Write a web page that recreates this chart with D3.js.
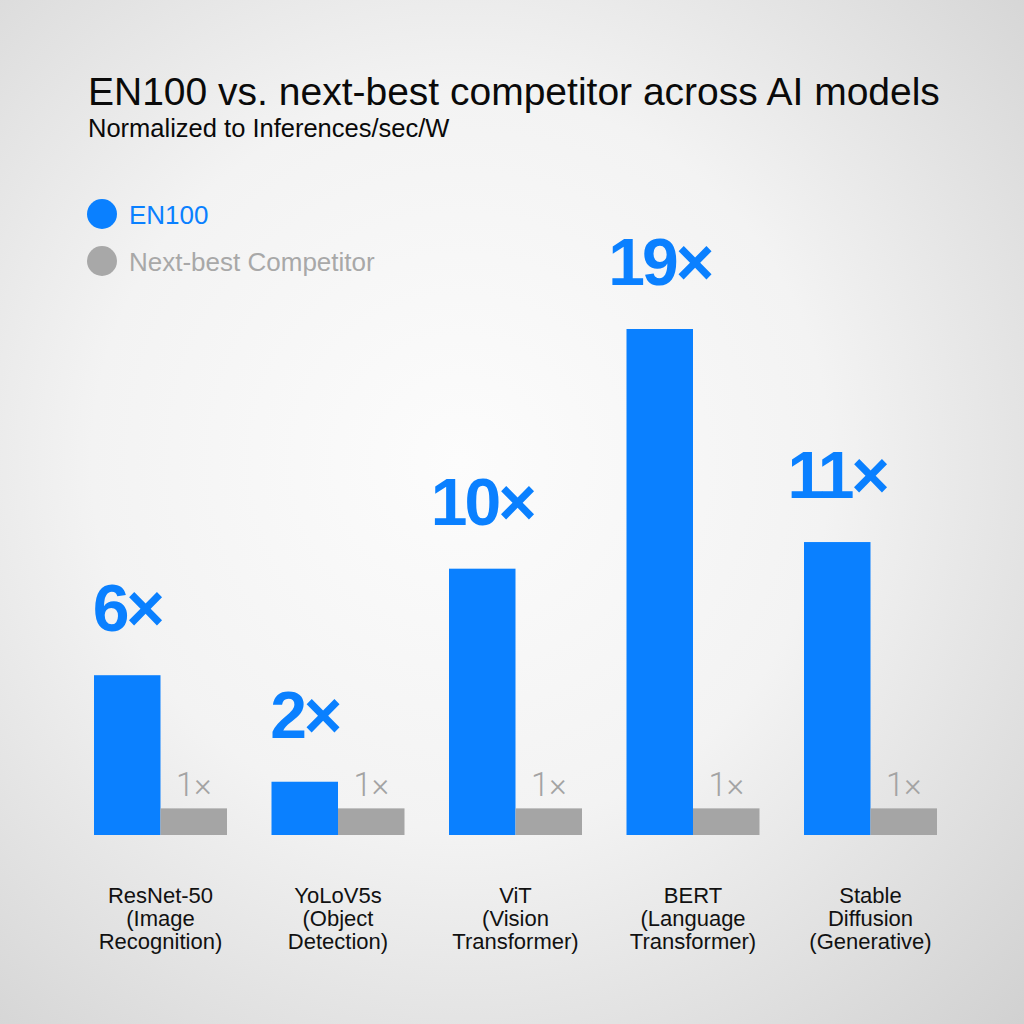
<!DOCTYPE html>
<html>
<head>
<meta charset="utf-8">
<script src="https://cdn.jsdelivr.net/npm/d3@7"></script>
<style>
  html, body { margin: 0; padding: 0; background: #fff; }
  svg { display: block; }
</style>
</head>
<body>
<svg id="chart" width="1024" height="1024"></svg>
<script>
// ---- Data ----
const categories = [
  ["ResNet-50", "(Image", "Recognition)"],
  ["YoLoV5s", "(Object", "Detection)"],
  ["ViT", "(Vision", "Transformer)"],
  ["BERT", "(Language", "Transformer)"],
  ["Stable", "Diffusion", "(Generative)"]
];
const categoryKeys = ["ResNet-50", "YoLoV5s", "ViT", "BERT", "Stable Diffusion"];
const seriesNames = ["EN100", "Next-best Competitor"];
const en100Values = [6, 2, 10, 19, 11];
const competitorValues = [1, 1, 1, 1, 1];
const title = "EN100 vs. next-best competitor across AI models";
const subtitle = "Normalized to Inferences/sec/W";

const BLUE = "#0a80ff";
const GRAY = "#a5a5a5";

const svg = d3.select("#chart");

// background gradient
const defs = svg.append("defs");
const grad = defs.append("radialGradient")
  .attr("id", "bg").attr("cx", "45%").attr("cy", "45%").attr("r", "80%");
grad.append("stop").attr("offset", "0%").attr("stop-color", "#fcfcfc");
grad.append("stop").attr("offset", "45%").attr("stop-color", "#f3f3f3");
grad.append("stop").attr("offset", "100%").attr("stop-color", "#cfcfcf");
svg.append("rect").attr("width", 1024).attr("height", 1024).attr("fill", "url(#bg)");

// scales
const x = d3.scaleBand().domain(categoryKeys).range([94, 937]).paddingInner(0.2507).paddingOuter(0);
const xs = d3.scaleBand().domain(seriesNames).range([0, x.bandwidth()]).padding(0);
const y = d3.scaleLinear().domain([0, 19]).range([835, 329]);

const rows = categoryKeys.map((k, i) => ({ key: k, lines: categories[i], en: en100Values[i], comp: competitorValues[i] }));

// title
svg.append("text").attr("x", 88).attr("y", 105)
  .attr("font-family", "'Liberation Sans', Arial, sans-serif").attr("font-size", 39)
  .attr("fill", "#0a0a0a").text(title);
svg.append("text").attr("x", 88).attr("y", 137)
  .attr("font-family", "'Liberation Sans', Arial, sans-serif").attr("font-size", 25.5)
  .attr("fill", "#0a0a0a").text(subtitle);

// legend
const legendColors = [BLUE, "#a8a8a8"];
const legend = svg.append("g");
seriesNames.forEach((name, i) => {
  const cy = 214 + i * 47;
  legend.append("circle").attr("cx", 102).attr("cy", cy).attr("r", 15).attr("fill", legendColors[i]);
  legend.append("text").attr("x", 129).attr("y", cy + 10)
    .attr("font-family", "'Liberation Sans', Arial, sans-serif").attr("font-size", 26)
    .attr("fill", legendColors[i]).text(name);
});

// bars
const g = svg.append("g");
const groups = g.selectAll("g.grp").data(rows).join("g")
  .attr("class", "grp").attr("transform", d => `translate(${x(d.key)},0)`);

groups.append("rect")
  .attr("x", xs(seriesNames[0])).attr("width", xs.bandwidth())
  .attr("y", d => y(d.en)).attr("height", d => y(0) - y(d.en))
  .attr("fill", BLUE);
groups.append("rect")
  .attr("x", xs(seriesNames[1])).attr("width", xs.bandwidth())
  .attr("y", d => y(d.comp)).attr("height", d => y(0) - y(d.comp))
  .attr("fill", GRAY);

// value labels
groups.append("text")
  .attr("x", xs(seriesNames[0]) + xs.bandwidth() / 2)
  .attr("y", d => y(d.en) - 44)
  .attr("text-anchor", "middle")
  .attr("font-family", "'Liberation Sans', Arial, sans-serif").attr("font-weight", "bold")
  .attr("font-size", 66).attr("letter-spacing", -3)
  .attr("fill", BLUE).text(d => d.en + "×");
groups.append("text")
  .attr("x", xs(seriesNames[1]) + xs.bandwidth() / 2)
  .attr("y", d => y(d.comp) - 12)
  .attr("text-anchor", "middle")
  .attr("font-family", "Roboto, 'Liberation Sans', sans-serif").attr("font-weight", 300)
  .attr("font-size", 33)
  .attr("fill", "#a3a3a3").text(d => d.comp + "×");

// category labels
const lab = groups.append("text")
  .attr("text-anchor", "middle")
  .attr("font-family", "'Liberation Sans', Arial, sans-serif").attr("font-size", 22)
  .attr("fill", "#111");
lab.selectAll("tspan").data(d => d.lines).join("tspan")
  .attr("x", x.bandwidth() / 2)
  .attr("y", (d, i) => 903 + i * 23)
  .text(d => d);
</script>
</body>
</html>
